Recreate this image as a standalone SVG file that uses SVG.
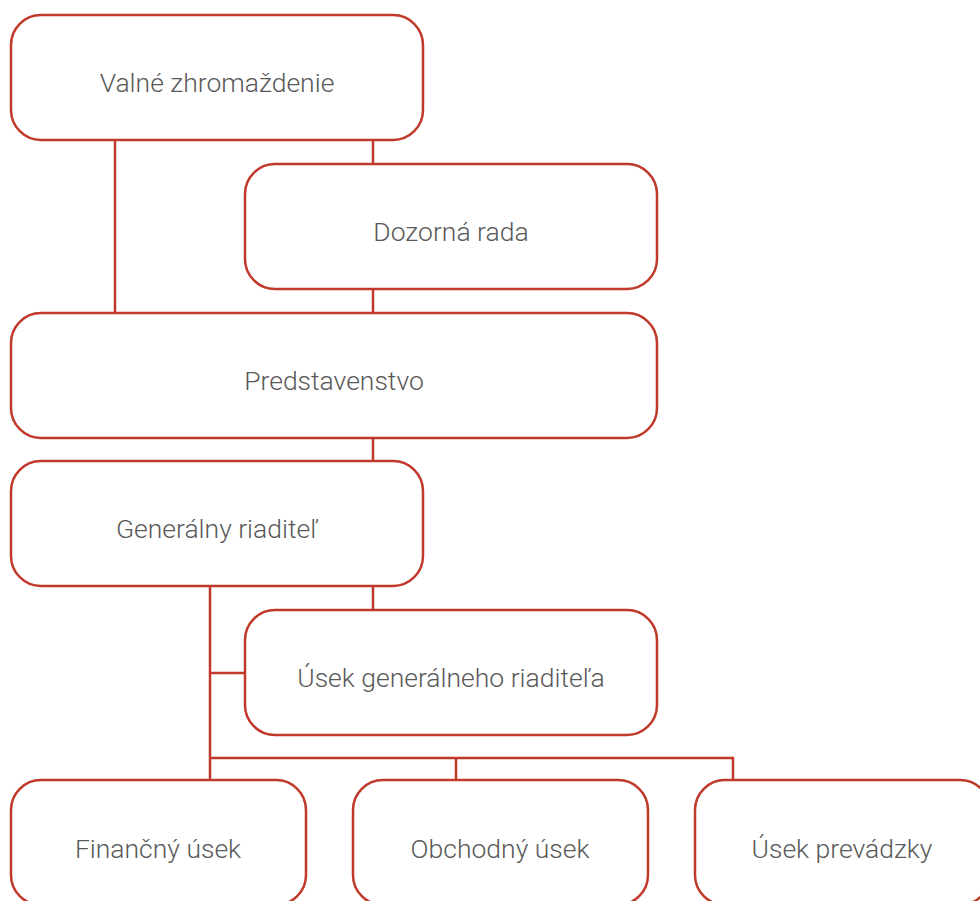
<svg xmlns="http://www.w3.org/2000/svg" width="980" height="901" viewBox="0 0 980 901">
<style>
.box{fill:#fff;stroke:#c0392b;stroke-width:2.5}
.lbl{font-family:Roboto,"Liberation Sans",sans-serif;font-weight:300;font-size:26.5px;fill:#595959;text-anchor:middle}
.conn{stroke:#c0392b;stroke-width:2.5;fill:none}
</style>
<rect width="980" height="901" fill="#fff"/>
<g id="connectors">
<path class="conn" d="M115 140V313M373 140V164M373 289V313M373 438V461M373 586V610M210 586V780M210 673H245M210 758H733V780M456 758V780"/>
</g>
<g id="valne"><rect class="box" x="11" y="15" width="412" height="125" rx="30"/><text class="lbl" x="217" y="92">Valné zhromaždenie</text></g>
<g id="dozorna"><rect class="box" x="245" y="164" width="412" height="125" rx="30"/><text class="lbl" x="451" y="241">Dozorná rada</text></g>
<g id="predstavenstvo"><rect class="box" x="11" y="313" width="646" height="125" rx="30"/><text class="lbl" x="334" y="390">Predstavenstvo</text></g>
<g id="generalny"><rect class="box" x="11" y="461" width="412" height="125" rx="30"/><text class="lbl" x="217" y="538">Generálny riaditeľ</text></g>
<g id="usek-gr"><rect class="box" x="245" y="610" width="412" height="125" rx="30"/><text class="lbl" x="451" y="687">Úsek generálneho riaditeľa</text></g>
<g id="financny"><rect class="box" x="11" y="780" width="295" height="125" rx="30"/><text class="lbl" x="158" y="858">Finančný úsek</text></g>
<g id="obchodny"><rect class="box" x="353" y="780" width="295" height="125" rx="30"/><text class="lbl" x="500" y="858">Obchodný úsek</text></g>
<g id="prevadzka"><rect class="box" x="695" y="780" width="295" height="125" rx="30"/><text class="lbl" x="842" y="858">Úsek prevádzky</text></g>
</svg>
